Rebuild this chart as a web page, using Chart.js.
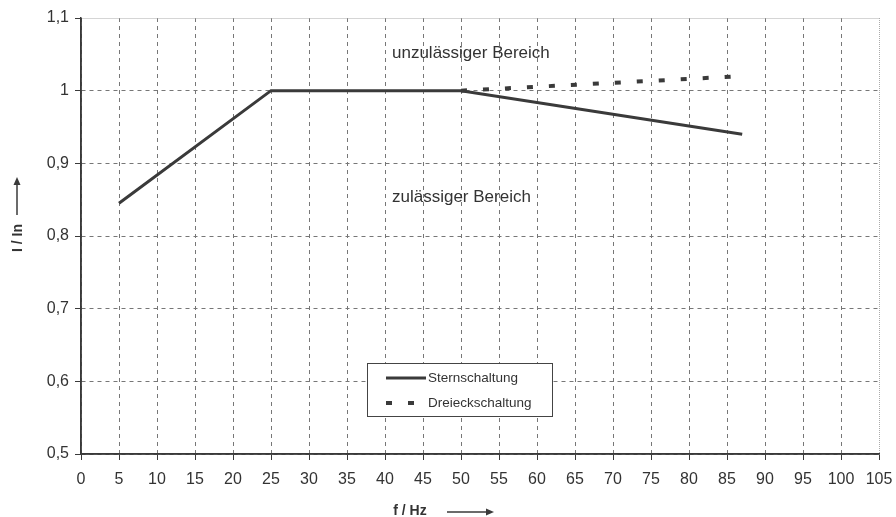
<!DOCTYPE html>
<html>
<head>
<meta charset="utf-8">
<script src="https://cdn.jsdelivr.net/npm/chart.js@4/dist/chart.umd.min.js"></script>
<style>
  html, body { margin: 0; padding: 0; background: #fff; }
  #wrap { width: 896px; height: 517px; }
</style>
</head>
<body>
<div id="wrap"><canvas id="myChart"></canvas></div>
<script>
// data
var sternX = [5, 25, 50, 87]
var sternY = [0.845, 1.0, 1.0, 0.94]
var dreieckX = [50, 87]
var dreieckY = [1.0, 1.02]
var seriesNames = ['Sternschaltung', 'Dreieckschaltung']
var xMin = 0, xMax = 105, xStep = 5
var yMin = 0.5, yMax = 1.1, yStep = 0.1
var regionLabels = ['unzulässiger Bereich', 'zulässiger Bereich']

var ink = '#3a3a3a'
var font = 'Arial, "Liberation Sans", sans-serif'

function toPoints(xs, ys){
  return xs.map(function(x, i){ return {x: x, y: ys[i]} })
}

function comma(v){
  return String(Math.round(v * 10) / 10).replace('.', ',')
}

// texts, arrows, axis lines and legend drawn on top
var extras = {
  id: 'extras',
  afterDraw: function(chart){
    var c = chart.ctx
    var a = chart.chartArea
    c.save()

    // solid left / bottom axis lines
    c.strokeStyle = ink
    c.lineWidth = 1.5
    c.beginPath()
    c.moveTo(a.left, a.top); c.lineTo(a.left, a.bottom); c.lineTo(a.right, a.bottom)
    c.stroke()

    c.fillStyle = '#333'
    c.font = '17px ' + font
    c.textAlign = 'left'
    c.textBaseline = 'middle'
    c.fillText(regionLabels[0], 392, 53)
    c.fillText(regionLabels[1], 392, 197)

    // x axis title + arrow
    c.font = 'bold 14px ' + font
    c.textAlign = 'center'
    c.fillText('f / Hz', 410, 511)
    c.strokeStyle = ink
    c.fillStyle = ink
    c.lineWidth = 1.5
    c.beginPath(); c.moveTo(447, 512); c.lineTo(488, 512); c.stroke()
    c.beginPath(); c.moveTo(494, 512); c.lineTo(486, 508.5); c.lineTo(486, 515.5); c.closePath(); c.fill()

    // y axis title + arrow
    c.save()
    c.translate(18, 238)
    c.rotate(-Math.PI / 2)
    c.fillStyle = '#333'
    c.fillText('I / In', 0, 0)
    c.restore()
    c.beginPath(); c.moveTo(17, 215); c.lineTo(17, 184); c.stroke()
    c.beginPath(); c.moveTo(17, 177); c.lineTo(13.5, 185); c.lineTo(20.5, 185); c.closePath(); c.fill()

    // legend box
    var bx = 367, by = 363, bw = 185, bh = 53
    c.fillStyle = '#fff'
    c.fillRect(bx, by, bw, bh)
    c.strokeStyle = '#444'
    c.lineWidth = 1
    c.strokeRect(bx + 0.5, by + 0.5, bw, bh)
    chart.data.datasets.forEach(function(ds, i){
      var yy = by + 15 + i * 25
      c.strokeStyle = ds.borderColor
      c.lineWidth = ds.borderWidth
      c.setLineDash(i === 0 ? [] : [6, 16])
      c.beginPath(); c.moveTo(386, yy); c.lineTo(i === 0 ? 426 : 420, yy); c.stroke()
      c.setLineDash([])
      c.fillStyle = '#333'
      c.font = '13.5px ' + font
      c.textAlign = 'left'
      c.fillText(ds.label, 428, yy)
    })
    c.restore()
  }
}

var isEdge = function(ctx, axis){
  var v = ctx.tick ? ctx.tick.value : null
  if (v === null) return false
  return axis === 'x' ? Math.abs(v - xMax) < 1e-6 : Math.abs(v - yMax) < 1e-6
}

var myChart = document.getElementById('myChart').getContext('2d')

var chart = new Chart(myChart, {
  type: 'line',
  data: {
    datasets: [
      {
        label: seriesNames[0],
        data: toPoints(sternX, sternY),
        borderColor: ink,
        borderWidth: 3,
        pointRadius: 0,
        tension: 0,
        order: 1
      },
      {
        label: seriesNames[1],
        data: toPoints(dreieckX, dreieckY),
        borderColor: ink,
        borderWidth: 4,
        borderDash: [6, 16],
        pointRadius: 0,
        tension: 0,
        order: 2
      }
    ]
  },
  options: {
    responsive: true,
    maintainAspectRatio: false,
    animation: false,
    layout: { padding: { left: 0, top: 18, right: 17, bottom: 0 } },
    plugins: {
      legend: { display: false },
      tooltip: { enabled: false }
    },
    scales: {
      x: {
        type: 'linear',
        min: xMin, max: xMax,
        afterFit: function(s){
          s.height = 63
          s.paddingLeft = 0
          s.paddingRight = 0
        },
        ticks: {
          stepSize: xStep,
          color: '#333',
          font: { size: 16, family: font },
          padding: 10,
          maxRotation: 0,
          autoSkip: false,
          callback: function(v){ return String(v) }
        },
        grid: {
          color: function(ctx){ return isEdge(ctx, 'x') ? '#aaa' : '#777' },
          lineWidth: 1,
          tickLength: 6,
          tickColor: ink
        },
        border: {
          color: ink,
          width: 1.5,
          dash: function(ctx){ return isEdge(ctx, 'x') ? [1, 1] : [4, 4] }
        }
      },
      y: {
        min: yMin, max: yMax,
        afterFit: function(s){
          s.width = 81
          s.paddingTop = 0
          s.paddingBottom = 0
        },
        ticks: {
          stepSize: yStep,
          color: '#333',
          font: { size: 16, family: font },
          padding: 6,
          callback: function(v){ return comma(v) }
        },
        grid: {
          color: function(ctx){ return isEdge(ctx, 'y') ? '#aaa' : '#777' },
          lineWidth: 1,
          tickLength: 6,
          tickColor: ink
        },
        border: {
          color: ink,
          width: 1.5,
          dash: function(ctx){ return isEdge(ctx, 'y') ? [1, 1] : [4, 4] }
        }
      }
    }
  },
  plugins: [extras]
})
</script>
</body>
</html>
